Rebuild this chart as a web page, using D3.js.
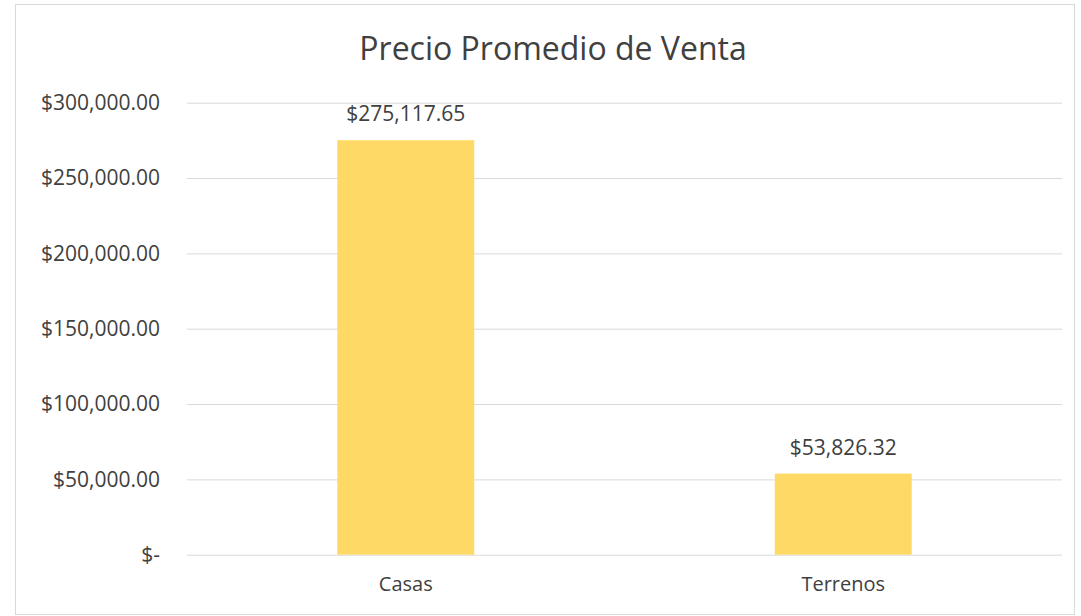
<!DOCTYPE html>
<html>
<head>
<meta charset="utf-8">
<script src="https://cdn.jsdelivr.net/npm/d3@7"></script>
<style>
    body { margin: 0; background: #fff; }
    svg { display: block; }
</style>
</head>
<body>
<div id="picture"></div>
<script>
var categories = ["Casas", "Terrenos"];
var values = [275117.65, 53826.32];
var tickValues = [0, 50000, 100000, 150000, 200000, 250000, 300000];
var title = "Precio Promedio de Venta";

function draw() {
    "use strict";

    var width = 1081, height = 616;
    var left = 187, right = 1062, top = 102.7, bottom = 554.7;
    var font = "'Open Sans', 'Noto Sans', sans-serif";

    var svg = d3.select("#picture")
        .append("svg")
        .attr("width", width)
        .attr("height", height);

    // chart area border
    svg.append("rect")
        .attr("x", 15.5).attr("y", 4.5)
        .attr("width", 1059).attr("height", 610)
        .attr("fill", "#fff")
        .attr("stroke", "#d9d9d9")
        .attr("stroke-width", 1);

    var x_scale = d3.scaleBand().domain(categories).range([left, right]);
    var y_scale = d3.scaleLinear().domain([0, 300000]).range([bottom, top]);

    var money = function (v) {
        return v === 0 ? "$-" : "$" + d3.format(",.2f")(v);
    };

    var y_axis = d3.axisLeft(y_scale)
        .tickValues(tickValues)
        .tickSize(-(right - left))
        .tickPadding(27)
        .tickFormat(money);

    var gy = svg.append("g")
        .attr("class", "y_axis")
        .attr("transform", "translate(" + left + ", 0)")
        .call(y_axis);
    gy.select(".domain").remove();
    gy.selectAll(".tick line").attr("stroke", "#d9d9d9").attr("stroke-width", 1);
    gy.selectAll(".tick text")
        .attr("font-family", font)
        .attr("font-size", 21)
        .attr("fill", "#404040");

    var x_axis = d3.axisBottom(x_scale).tickSize(0).tickPadding(22);
    var gx = svg.append("g")
        .attr("class", "x_axis")
        .attr("transform", "translate(0, " + bottom + ")")
        .call(x_axis);
    gx.select(".domain").remove();
    gx.selectAll(".tick text")
        .attr("font-family", font)
        .attr("font-size", 20)
        .attr("fill", "#404040");

    var barWidth = x_scale.bandwidth() * 0.313;

    svg.selectAll(".bar")
        .data(values)
        .enter()
        .append("rect")
        .attr("class", "bar")
        .attr("x", function (d, i) { return x_scale(categories[i]) + x_scale.bandwidth() / 2 - barWidth / 2; })
        .attr("y", function (d) { return y_scale(d); })
        .attr("width", barWidth)
        .attr("height", function (d) { return bottom - y_scale(d); })
        .attr("fill", "#ffd966");

    svg.selectAll(".label")
        .data(values)
        .enter()
        .append("text")
        .attr("class", "label")
        .attr("x", function (d, i) { return x_scale(categories[i]) + x_scale.bandwidth() / 2; })
        .attr("y", function (d) { return y_scale(d) - 19; })
        .attr("text-anchor", "middle")
        .attr("font-family", font)
        .attr("font-size", 21)
        .attr("fill", "#404040")
        .text(money);

    svg.append("text")
        .attr("x", 553)
        .attr("y", 60)
        .attr("text-anchor", "middle")
        .attr("font-family", font)
        .attr("font-size", 32)
        .attr("fill", "#404040")
        .text(title);
}

draw();
</script>
</body>
</html>
